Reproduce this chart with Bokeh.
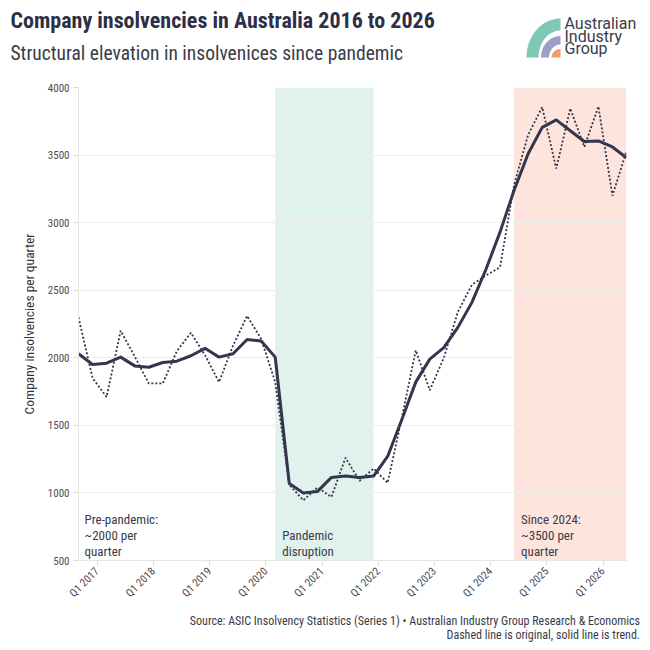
import numpy as np
import pandas as pd
from bokeh.plotting import figure
from bokeh.layouts import column, row
from bokeh.models import (Range1d, BoxAnnotation, Label, FixedTicker,
                          SingleIntervalTicker, Div)
from bokeh.core.properties import value
from bokeh.embed import file_html
from bokeh.resources import INLINE

# quarterly ASIC series, Sep 2016 .. Jun 2026
first_quarter = "2016-09-01"
n_quarters = 40
original = [2300, 1850, 1710, 2200, 2010, 1810, 1810, 2050, 2185, 2020,
            1820, 2090, 2310, 2140, 1820, 1060, 945, 1040, 970, 1260,
            1090, 1180, 1075, 1550, 2055, 1760, 2000, 2340, 2540, 2610,
            2670, 3280, 3650, 3855, 3400, 3845, 3560, 3860, 3200, 3530]
trend = [2030, 1950, 1960, 2005, 1940, 1930, 1965, 1975, 2015, 2070,
         2005, 2030, 2135, 2125, 2005, 1070, 1000, 1010, 1115, 1125,
         1115, 1125, 1270, 1540, 1820, 1990, 2075, 2225, 2410, 2655,
         2930, 3240, 3510, 3705, 3760, 3680, 3600, 3605, 3560, 3480]
tick_years = [2017, 2018, 2019, 2020, 2021, 2022, 2023, 2024, 2025, 2026]
tick_labels = ["Q1 %d" % y for y in tick_years]
pandemic = ("2020-03-01", "2021-12-01")
since_2024 = ("2024-06-01", "2026-06-01")

notes = [
    ("Pre-pandemic:\n~2000 per\nquarter", first_quarter, 6),
    ("Pandemic\ndisruption", pandemic[0], 7),
    ("Since 2024:\n~3500 per\nquarter", since_2024[0], 7),
]

title = "Company insolvencies in Australia 2016 to 2026"
subtitle = "Structural elevation in insolvenices since pandemic"
source = ("Source: ASIC Insolvency Statistics (Series 1) \u2022 "
          "Australian Industry Group Research &amp; Economics")
source2 = "Dashed line is original, solid line is trend."
logo_words = ["Australian", "Industry", "Group"]


def year_frac(d):
    d = pd.Timestamp(d)
    return d.year + (d.month - 1) / 12.0


dates = pd.date_range(first_quarter, periods=n_quarters, freq="3MS")
x = [year_frac(d) for d in dates]

FONT = "Roboto Condensed"
INK = "#33364c"
TXT = "#3a3b48"
W = 650
HEAD_H, FOOT_H = 80, 42
MAIN_H = W - HEAD_H - FOOT_H

# ---- header: title, subtitle, logo (pixel coordinates)
head = figure(width=W, height=HEAD_H, output_backend="svg", toolbar_location=None,
              x_range=Range1d(0, W), y_range=Range1d(HEAD_H, 0),
              x_axis_location=None, y_axis_location=None, min_border=0)
head.grid.grid_line_color = None
head.outline_line_color = None
head.text([10], [32], text=[title], text_font=value(FONT), text_font_size="22px",
          text_font_style="bold", text_color="#2e2f47")
head.text([10], [64.5], text=[subtitle], text_font=value(FONT), text_font_size="19.5px",
          text_color="#3a3b48")

cx, cy = 560, 57
t = np.linspace(0, np.pi / 2, 30)


def ring(rx_out, ry_out, rx_in, ry_in):
    xs = list(cx - rx_out * np.cos(t)) + list(cx - rx_in * np.cos(t[::-1]))
    ys = list(cy - ry_out * np.sin(t)) + list(cy - ry_in * np.sin(t[::-1]))
    return xs, ys


def disc(rx, ry):
    return [cx] + list(cx - rx * np.cos(t)), [cy] + list(cy - ry * np.sin(t))


shapes = [ring(34, 39, 22, 27), ring(19.5, 21.5, 11.5, 13), disc(9, 8.5)]
head.patches([s[0] for s in shapes], [s[1] for s in shapes],
             fill_color=["#7dc9b4", "#9c9ec6", "#f59a6e"], line_color=None)
head.text([564] * 3, [32.5, 45, 57.5], text=logo_words, text_font=value("Roboto"),
          text_font_size="16px", text_color="#3b3b4b")

# ---- main chart
p = figure(width=W, height=MAIN_H, output_backend="svg", toolbar_location=None,
           x_range=Range1d(x[0], x[-1]), y_range=Range1d(500, 4000),
           min_border_left=78, min_border_right=24,
           min_border_top=7, min_border_bottom=MAIN_H - 7 - 473)
p.outline_line_color = None

p.add_layout(BoxAnnotation(left=year_frac(pandemic[0]), right=year_frac(pandemic[1]),
                           fill_color="#e1f2ee", fill_alpha=1, line_color=None,
                           level="image"))
p.add_layout(BoxAnnotation(left=year_frac(since_2024[0]), right=year_frac(since_2024[1]),
                           fill_color="#fde5dd", fill_alpha=1, line_color=None,
                           level="image"))

p.line(x, original, line_color=INK, line_width=1.8, line_dash="2 2")
p.line(x, trend, line_color=INK, line_width=3, line_join="round")

p.xgrid.grid_line_color = None
p.ygrid.grid_line_color = "#ececec"
p.yaxis.ticker = SingleIntervalTicker(interval=500)
p.xaxis.ticker = FixedTicker(ticks=tick_years)
p.xaxis.major_label_overrides = {y: l for y, l in zip(tick_years, tick_labels)}
p.xaxis.major_label_orientation = np.pi / 4
p.yaxis.axis_label = "Company insolvencies per quarter"
for ax in (p.xaxis, p.yaxis):
    ax.axis_line_color = "#e6e6e6"
    ax.major_tick_line_color = "#dddddd"
    ax.major_tick_out = 5
    ax.major_tick_in = 0
    ax.minor_tick_line_color = None
    ax.major_label_text_font = FONT
    ax.major_label_text_font_size = "11px"
    ax.major_label_text_color = "#4a4a55"
    ax.major_label_standoff = 4
p.yaxis.axis_label_text_font = FONT
p.yaxis.axis_label_text_font_size = "13.5px"
p.yaxis.axis_label_text_font_style = "normal"
p.yaxis.axis_label_text_color = "#33343f"
p.yaxis.axis_label_standoff = 8

for text, start, off in notes:
    p.add_layout(Label(x=year_frac(start), y=500, text=text, x_offset=off, y_offset=2,
                       text_font=FONT, text_font_size="13px", text_color=TXT,
                       text_baseline="bottom", text_line_height=1.05))

# ---- footer
foot = Div(width=W, height=FOOT_H, text=(
    '<div style="width:635px;text-align:right;font-family:\'Roboto Condensed\';'
    'font-size:12px;line-height:14px;color:%s;padding-top:1px">%s<br>%s</div>'
    % (TXT, source, source2)))

layout = column(row(head), p, foot, spacing=0)
open("out.html", "w").write(file_html(layout, INLINE))
